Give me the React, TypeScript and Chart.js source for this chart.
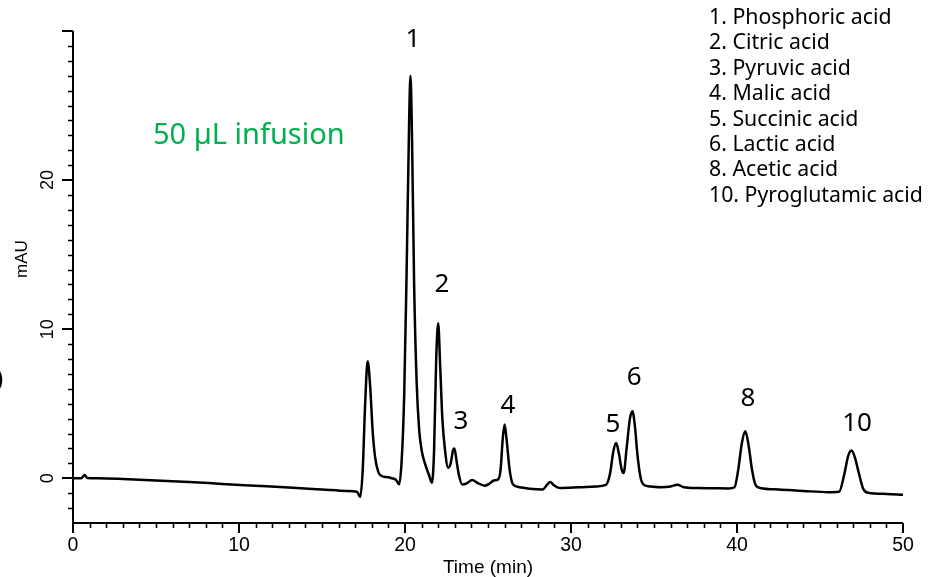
import React, { useEffect, useRef } from "react";
import { Chart, registerables } from "chart.js";

Chart.register(...registerables);

// Chromatogram trace (time in min, signal in mAU)
const times = [
  0, 0.5, 0.7, 0.85, 1.5, 3, 5, 7, 9, 11, 13, 15, 16.5, 17.1, 17.3, 17.45, 17.6, 17.75, 17.9, 18.05,
  18.2, 18.4, 18.6, 18.9, 19.2, 19.45, 19.65, 19.8, 19.95, 20.1, 20.25, 20.33, 20.42, 20.55, 20.7, 20.85,
  21.0, 21.2, 21.45, 21.62, 21.75, 21.88, 22.0, 22.12, 22.25, 22.4, 22.6, 22.75, 22.9, 22.98, 23.1, 23.25,
  23.45, 23.7, 24.05, 24.35, 24.8, 25.1, 25.35, 25.6, 25.75, 25.9, 26.0, 26.12, 26.3, 26.5, 26.9, 27.5,
  28.3, 28.55, 28.75, 28.95, 29.3, 30.5, 31.5, 32.1, 32.35, 32.55, 32.72, 32.88, 33.05, 33.17, 33.35, 33.55,
  33.7, 33.85, 34.0, 34.2, 34.4, 34.8, 35.4, 36.0, 36.4, 36.8, 37.6, 38.5, 39.5, 39.85, 40.05, 40.3,
  40.5, 40.7, 40.9, 41.1, 41.4, 42.5, 44, 45.5, 46.15, 46.45, 46.7, 46.9, 47.1, 47.35, 47.6, 47.9, 49, 50,
];
const signal = [
  0.0, 0.0, 0.22, 0.02, 0.0, -0.05, -0.15, -0.25, -0.38, -0.5, -0.62, -0.75, -0.85, -0.9, -1.25, 0.5, 5.0, 7.85, 6.2, 3.2,
  1.4, 0.4, 0.15, 0.08, 0.0, -0.1, -0.4, 1.2, 5.5, 14, 24, 27.0, 23, 13, 6.5, 3.3,
  1.9, 1.0, 0.2, -0.3, 1.8, 8.0, 10.4, 7.5, 4.0, 2.0, 0.7, 1.0, 1.9, 2.0, 1.2, 0.2,
  -0.42, -0.35, -0.12, -0.3, -0.5, -0.35, -0.15, -0.08, 0.5, 2.8, 3.6, 2.6, 0.6, -0.4, -0.6, -0.7,
  -0.75, -0.45, -0.25, -0.45, -0.65, -0.6, -0.55, -0.45, 0.3, 1.8, 2.37, 1.7, 0.6, 0.36, 2.0, 4.0,
  4.5, 3.5, 1.6, 0.0, -0.45, -0.55, -0.6, -0.55, -0.43, -0.6, -0.66, -0.67, -0.68, -0.6, 0.4, 2.4,
  3.15, 2.2, 0.6, -0.4, -0.65, -0.75, -0.85, -0.93, -0.9, 0.2, 1.5, 1.86, 1.4, 0.3, -0.7, -0.97, -1.05, -1.1,
];

// Peak annotations (placed in data coordinates)
const peakLabels = ["1", "2", "3", "4", "5", "6", "8", "10"];
const peakLabelTime = [20.48, 22.22, 23.37, 26.2, 32.53, 33.8, 40.66, 47.23];
const peakLabelValue = [29.4, 13.0, 3.83, 4.9, 3.6, 6.75, 5.35, 3.67];

// Legend of compounds
const legendItems = [
  "1. Phosphoric acid",
  "2. Citric acid",
  "3. Pyruvic acid",
  "4. Malic acid",
  "5. Succinic acid",
  "6. Lactic acid",
  "8. Acetic acid",
  "10. Pyroglutamic acid",
];

const xMajorTicks = [0, 10, 20, 30, 40, 50];
const xTickLabels = ["0", "10", "20", "30", "40", "50"];
const yMajorTicks = [0, 10, 20, 30];
const yLabelTicks = [0, 10, 20];
const yTickLabels = ["0", "10", "20"];

const X_MIN = 0;
const X_MAX = 50;
const Y_MIN = -3;
const Y_MAX = 30;

const axesPlugin = {
  id: "chromAxes",
  afterDraw(chart: any) {
    const ctx = chart.ctx as CanvasRenderingContext2D;
    const xs = chart.scales.x;
    const ys = chart.scales.y;
    const x0 = xs.getPixelForValue(X_MIN);
    const x1 = xs.getPixelForValue(X_MAX);
    const yb = ys.getPixelForValue(Y_MIN);
    const yt = ys.getPixelForValue(Y_MAX);
    ctx.save();
    ctx.strokeStyle = "#000";
    ctx.fillStyle = "#000";
    ctx.lineCap = "butt";
    // axis lines
    ctx.lineWidth = 2;
    ctx.beginPath();
    ctx.moveTo(x0, yt);
    ctx.lineTo(x0, yb);
    ctx.lineTo(x1, yb);
    ctx.stroke();
    // minor ticks
    ctx.lineWidth = 1.6;
    ctx.beginPath();
    for (let v = X_MIN + 1; v < X_MAX; v++) {
      if (xMajorTicks.includes(v)) continue;
      const px = Math.round(xs.getPixelForValue(v)) + 0.5;
      ctx.moveTo(px, yb);
      ctx.lineTo(px, yb + 5);
    }
    for (let v = Y_MIN + 1; v < Y_MAX; v++) {
      if (yMajorTicks.includes(v)) continue;
      const py = Math.round(ys.getPixelForValue(v)) + 0.5;
      ctx.moveTo(x0, py);
      ctx.lineTo(x0 - 5, py);
    }
    ctx.stroke();
    // major ticks
    ctx.lineWidth = 2;
    ctx.beginPath();
    xMajorTicks.forEach((v) => {
      const px = Math.round(xs.getPixelForValue(v));
      ctx.moveTo(px, yb);
      ctx.lineTo(px, yb + 10);
    });
    yMajorTicks.forEach((v) => {
      const py = Math.round(ys.getPixelForValue(v));
      ctx.moveTo(x0, py);
      ctx.lineTo(x0 - 11, py);
    });
    ctx.stroke();
    // tick labels
    ctx.font = '19.5px "Liberation Sans", Arial, sans-serif';
    ctx.textAlign = "center";
    ctx.textBaseline = "middle";
    xMajorTicks.forEach((v, i) => {
      ctx.fillText(xTickLabels[i], xs.getPixelForValue(v), yb + 23);
    });
    ctx.font = '18px "Liberation Sans", Arial, sans-serif';
    yLabelTicks.forEach((v, i) => {
      ctx.save();
      ctx.translate(x0 - 25, ys.getPixelForValue(v));
      ctx.rotate(-Math.PI / 2);
      ctx.fillText(yTickLabels[i], 0, 0);
      ctx.restore();
    });
    // axis titles
    ctx.font = '19px "Liberation Sans", Arial, sans-serif';
    ctx.fillText("Time (min)", (x0 + x1) / 2, 568);
    ctx.save();
    ctx.font = '17px "Liberation Sans", Arial, sans-serif';
    ctx.translate(22, ys.getPixelForValue(14.7));
    ctx.rotate(-Math.PI / 2);
    ctx.fillText("mAU", 0, 0);
    ctx.restore();
    // cropped glyph at the left edge
    ctx.font = '26px "Liberation Sans", Arial, sans-serif';
    ctx.textAlign = "right";
    ctx.fillText(")", 4, 380);
    ctx.textAlign = "center";
    // peak labels
    ctx.font = '26px "Noto Sans", sans-serif';
    peakLabels.forEach((t, i) => {
      ctx.fillText(t, xs.getPixelForValue(peakLabelTime[i]), ys.getPixelForValue(peakLabelValue[i]));
    });
    // green annotation
    ctx.fillStyle = "#00B050";
    ctx.font = '29px "Noto Sans", sans-serif';
    ctx.textAlign = "left";
    ctx.fillText("50 µL infusion", 153, 136);
    // legend
    ctx.fillStyle = "#000";
    ctx.font = '21.3px "Noto Sans", sans-serif';
    legendItems.forEach((t, i) => {
      ctx.fillText(t, 709, 18 + i * 25.4);
    });
    ctx.restore();
  },
};

export default function App() {
  const canvasRef = useRef<HTMLCanvasElement | null>(null);
  useEffect(() => {
    if (!canvasRef.current) return;
    const data = times.map((t, i) => ({ x: t, y: signal[i] }));
    const chart = new Chart(canvasRef.current, {
      type: "line",
      data: {
        datasets: [
          {
            data,
            borderColor: "#000",
            borderWidth: 2.5,
            pointRadius: 0,
            cubicInterpolationMode: "monotone",
            fill: false,
          },
        ],
      },
      options: {
        responsive: false,
        animation: false,
        layout: { padding: { left: 73, right: 37, top: 31, bottom: 54 } },
        plugins: { legend: { display: false }, tooltip: { enabled: false } },
        scales: {
          x: { type: "linear", min: X_MIN, max: X_MAX, display: false },
          y: { type: "linear", min: Y_MIN, max: Y_MAX, display: false },
        },
      },
      plugins: [axesPlugin],
    });
    return () => chart.destroy();
  }, []);
  return (
    <div style={{ position: "fixed", left: 0, top: 0, width: 940, height: 577, background: "#fff" }}>
      <canvas ref={canvasRef} width={940} height={577} />
    </div>
  );
}
